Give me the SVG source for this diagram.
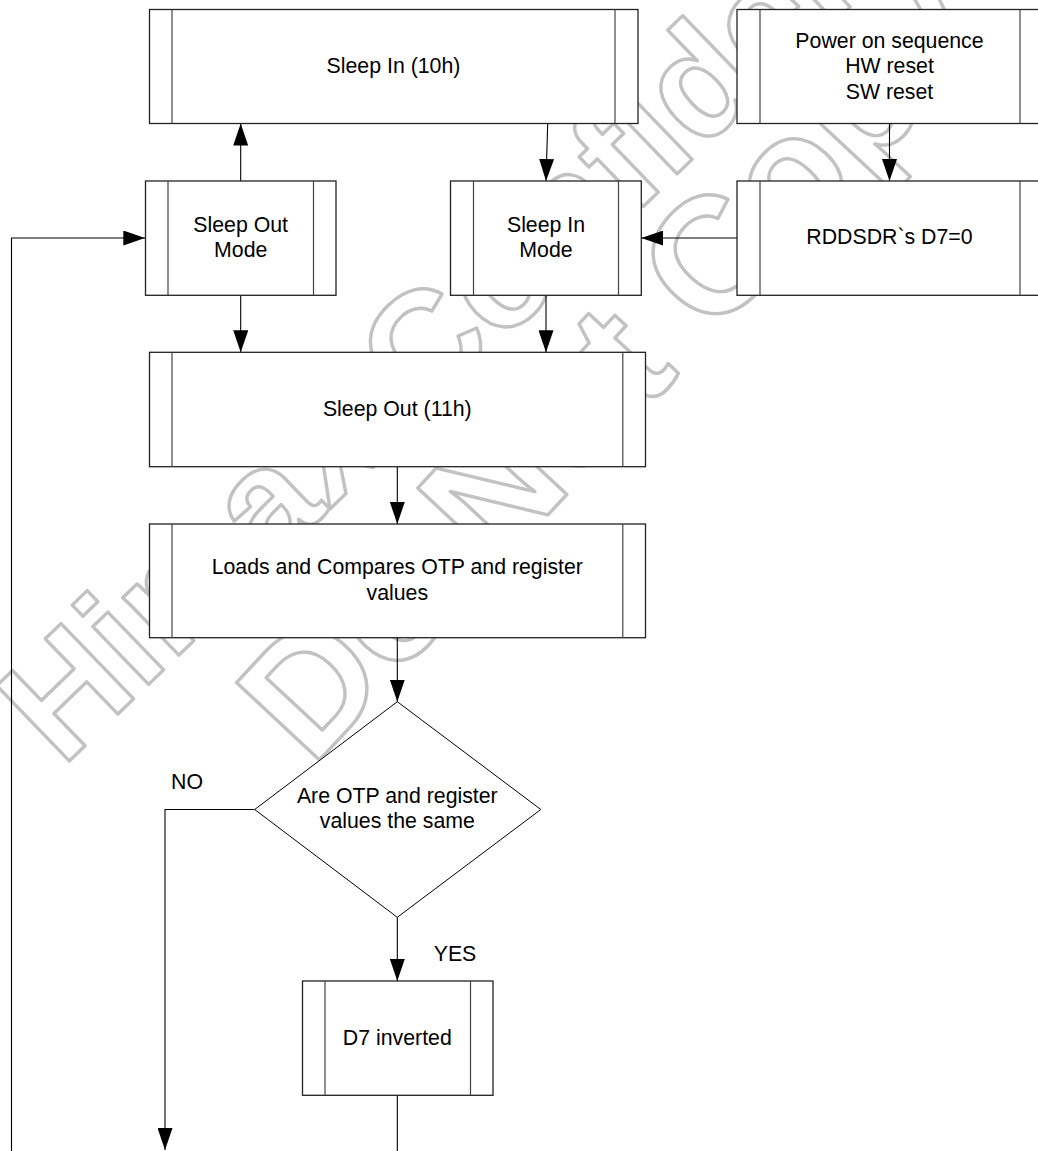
<svg xmlns="http://www.w3.org/2000/svg" width="1038" height="1151" viewBox="0 0 1038 1151">
<style>
.wm{font-family:"Liberation Sans",Arial,sans-serif;font-weight:bold;fill:none;stroke:#c2c2c2;stroke-width:3.4;stroke-linejoin:round}
.box{fill:#fff;stroke:#222;stroke-width:1.3}
.inner{stroke:#444;stroke-width:1.2;fill:none}
.lbl{font-family:"Liberation Sans",Arial,sans-serif;font-size:21.3px;fill:#000;text-anchor:middle}
.conn{fill:none;stroke:#000;stroke-width:1.1}
</style>
<defs>
<marker id="arr" markerUnits="userSpaceOnUse" markerWidth="22" markerHeight="15" viewBox="0 0 22 15" refX="22" refY="7.5" orient="auto">
<path d="M0,0 L22,7.5 L0,15 z" fill="#000"/>
</marker>
</defs>
<rect width="1038" height="1151" fill="#fff"/>
<g id="watermark">
<text class="wm" font-size="152" transform="translate(62,768) rotate(-44)">Himax Confidential</text>
<text class="wm" font-size="165" transform="translate(312,768) rotate(-47)">Do Not Copy</text>
</g>
<g id="connectors">
<line class="conn" x1="240.7" y1="181" x2="240.7" y2="123.5" marker-end="url(#arr)"/>
<line class="conn" x1="547.7" y1="123.5" x2="546" y2="181" marker-end="url(#arr)"/>
<line class="conn" x1="889.5" y1="123.5" x2="889.5" y2="181" marker-end="url(#arr)"/>
<line class="conn" x1="737" y1="238" x2="641.3" y2="238" marker-end="url(#arr)"/>
<polyline class="conn" points="11.5,1151 11.5,238 145.3,238" marker-end="url(#arr)"/>
<line class="conn" x1="240.7" y1="295.3" x2="240.7" y2="352.3" marker-end="url(#arr)"/>
<line class="conn" x1="546" y1="295.3" x2="546" y2="352.3" marker-end="url(#arr)"/>
<line class="conn" x1="397.3" y1="466.7" x2="397.3" y2="524" marker-end="url(#arr)"/>
<line class="conn" x1="397.3" y1="637.7" x2="397.3" y2="701.7" marker-end="url(#arr)"/>
<line class="conn" x1="397.3" y1="917.3" x2="397.3" y2="981" marker-end="url(#arr)"/>
<polyline class="conn" points="254.7,809.5 165,809.5 165,1150" marker-end="url(#arr)"/>
<line class="conn" x1="397.3" y1="1095.3" x2="397.3" y2="1151"/>
<text class="lbl" x="187" y="789.3">NO</text>
<text class="lbl" x="455" y="960.7">YES</text>
</g>
<g id="sleep-in-10h">
<rect class="box" x="149.5" y="9.5" width="488.5" height="114"/>
<line class="inner" x1="172" y1="9.5" x2="172" y2="123.5"/>
<line class="inner" x1="615" y1="9.5" x2="615" y2="123.5"/>
<text class="lbl" x="393.5" y="73">Sleep In (10h)</text>
</g>
<g id="power-on">
<rect class="box" x="737" y="9.5" width="305" height="114"/>
<line class="inner" x1="760" y1="9.5" x2="760" y2="123.5"/>
<line class="inner" x1="1020" y1="9.5" x2="1020" y2="123.5"/>
<text class="lbl" x="889.5" y="47.5">Power on sequence</text>
<text class="lbl" x="889.5" y="73">HW reset</text>
<text class="lbl" x="889.5" y="98.5">SW reset</text>
</g>
<g id="sleep-out-mode">
<rect class="box" x="145.5" y="181" width="190.5" height="114.3"/>
<line class="inner" x1="168" y1="181" x2="168" y2="295.3"/>
<line class="inner" x1="313.5" y1="181" x2="313.5" y2="295.3"/>
<text class="lbl" x="240.7" y="232">Sleep Out</text>
<text class="lbl" x="240.7" y="256.5">Mode</text>
</g>
<g id="sleep-in-mode">
<rect class="box" x="450.5" y="181" width="190.8" height="114.3"/>
<line class="inner" x1="473.5" y1="181" x2="473.5" y2="295.3"/>
<line class="inner" x1="618.5" y1="181" x2="618.5" y2="295.3"/>
<text class="lbl" x="546" y="232">Sleep In</text>
<text class="lbl" x="546" y="256.5">Mode</text>
</g>
<g id="rddsdr">
<rect class="box" x="737" y="181" width="305" height="114.3"/>
<line class="inner" x1="760" y1="181" x2="760" y2="295.3"/>
<line class="inner" x1="1020" y1="181" x2="1020" y2="295.3"/>
<text class="lbl" x="889.5" y="244.3">RDDSDR`s D7=0</text>
</g>
<g id="sleep-out-11h">
<rect class="box" x="149.5" y="352.3" width="496" height="114.4"/>
<line class="inner" x1="172" y1="352.3" x2="172" y2="466.7"/>
<line class="inner" x1="622.8" y1="352.3" x2="622.8" y2="466.7"/>
<text class="lbl" x="397.3" y="416">Sleep Out (11h)</text>
</g>
<g id="loads-compares">
<rect class="box" x="149.5" y="524" width="496" height="113.7"/>
<line class="inner" x1="172" y1="524" x2="172" y2="637.7"/>
<line class="inner" x1="622.8" y1="524" x2="622.8" y2="637.7"/>
<text class="lbl" x="397.3" y="573.5">Loads and Compares OTP and register</text>
<text class="lbl" x="397.3" y="599.5">values</text>
</g>
<g id="decision">
<polygon points="397.3,701.7 540.8,809.5 397.3,917.3 254.7,809.5" fill="#fff" stroke="#000" stroke-width="1"/>
<text class="lbl" x="397.3" y="803.3">Are OTP and register</text>
<text class="lbl" x="397.3" y="828.3">values the same</text>
</g>
<g id="d7-inverted">
<rect class="box" x="302.5" y="981" width="190.5" height="114.3"/>
<line class="inner" x1="325" y1="981" x2="325" y2="1095.3"/>
<line class="inner" x1="470.5" y1="981" x2="470.5" y2="1095.3"/>
<text class="lbl" x="397.3" y="1045">D7 inverted</text>
</g>
</svg>
